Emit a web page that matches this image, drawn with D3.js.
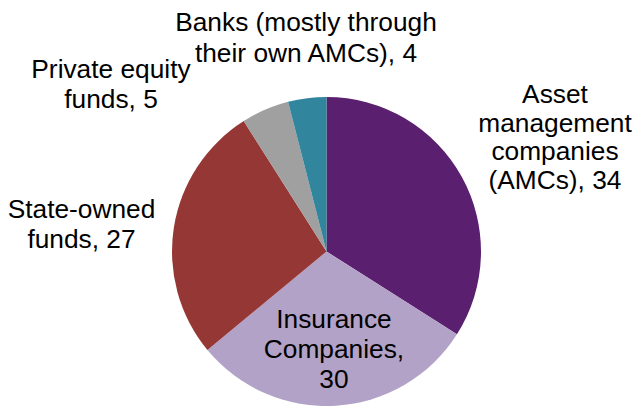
<!DOCTYPE html>
<html>
<head>
<meta charset="utf-8">
<script src="https://cdn.jsdelivr.net/npm/d3@7"></script>
<style>
  html, body { margin: 0; padding: 0; background: #ffffff; }
  svg { display: block; }
  text { font-family: Arial, "Liberation Sans", sans-serif; fill: #000000; }
</style>
</head>
<body>
<svg id="chart" width="644" height="411"></svg>
<script>
// Holders of the fund market, share in per cent (clockwise from 12 o'clock)
const categories = [
  "Asset management companies (AMCs)",
  "Insurance Companies",
  "State-owned funds",
  "Private equity funds",
  "Banks (mostly through their own AMCs)"
];
const values = [34, 30, 27, 5, 4];
const colors = ["#5B1F6F", "#B3A2C7", "#953735", "#A0A0A0", "#31859C"];

// Label placement: centre x, first baseline y, line step, wrap width
const labelLayout = [
  { x: 555, y: 103, step: 28.5, wrap: 162 },
  { x: 334, y: 328, step: 30,   wrap: 152 },
  { x: 81.5, y: 218, step: 30,  wrap: 158 },
  { x: 111, y: 78,  step: 30,   wrap: 168 },
  { x: 306, y: 30.7, step: 31,  wrap: 280 }
];

const svg = d3.select("#chart");
const cx = 326.5, cy = 251.5, radius = 154.5;

const pie = d3.pie().sort(null).value(d => d.value).startAngle(0).endAngle(2 * Math.PI);
const arc = d3.arc().innerRadius(0).outerRadius(radius);
const data = categories.map((c, i) => ({ name: c, value: values[i], color: colors[i] }));

svg.append("g")
  .attr("transform", `translate(${cx},${cy})`)
  .selectAll("path")
  .data(pie(data))
  .join("path")
  .attr("d", arc)
  .attr("fill", d => d.data.color);

// Word-wrapped data labels: "<category>, <value>"
const labels = svg.append("g").attr("font-size", 26.3);
data.forEach((d, i) => {
  const lay = labelLayout[i];
  const words = `${d.name}, ${d.value}`.split(" ");
  const t = labels.append("text").attr("text-anchor", "middle");
  const probe = t.append("tspan");
  const lines = [];
  let cur = [];
  words.forEach(w => {
    const test = cur.concat([w]).join(" ");
    probe.text(test);
    if (cur.length && probe.node().getComputedTextLength() > lay.wrap) {
      lines.push(cur.join(" "));
      cur = [w];
    } else {
      cur.push(w);
    }
  });
  if (cur.length) lines.push(cur.join(" "));
  probe.remove();
  lines.forEach((line, k) => {
    t.append("tspan")
      .attr("x", lay.x)
      .attr("y", lay.y + k * lay.step)
      .text(line);
  });
});
</script>
</body>
</html>
